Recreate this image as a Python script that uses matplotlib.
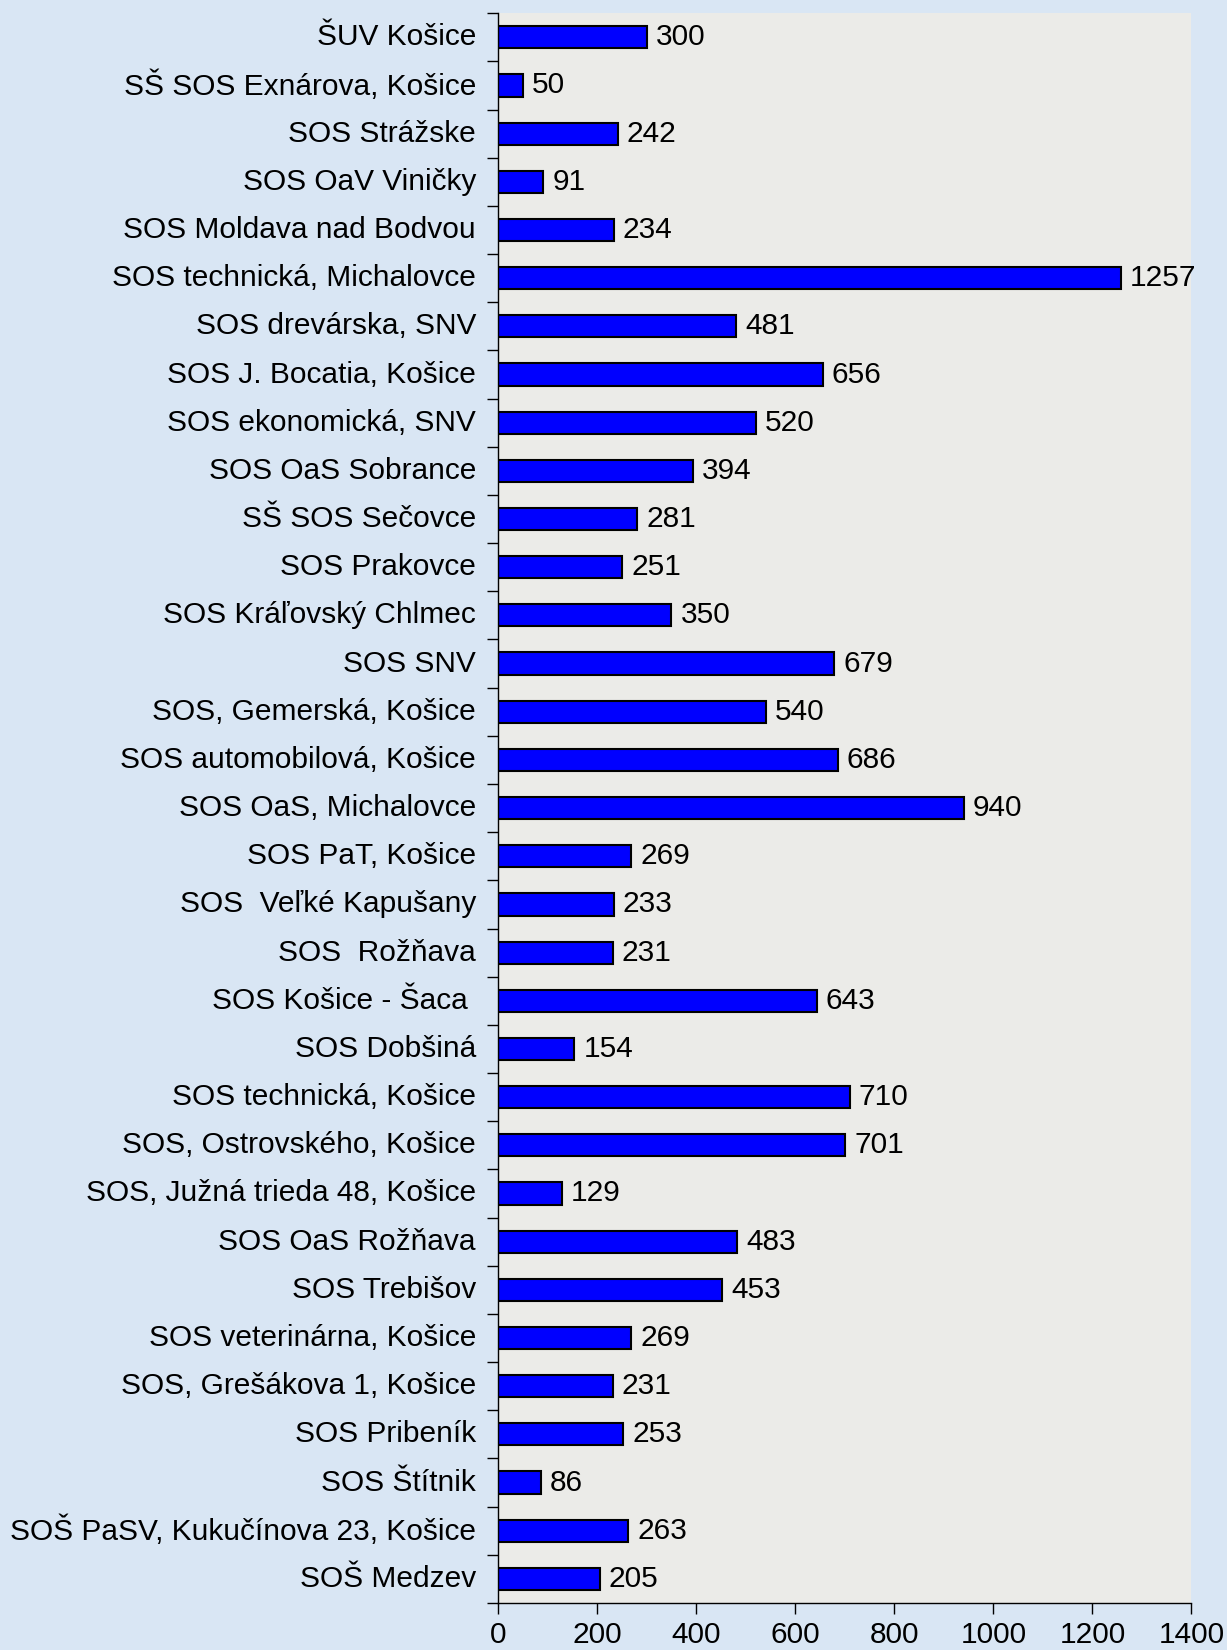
import numpy as np
from matplotlib import pyplot as plt
from matplotlib.ticker import FixedLocator

schools = ["ŠUV Košice", "SŠ SOS Exnárova, Košice", "SOS Strážske", "SOS OaV Viničky",
           "SOS Moldava nad Bodvou", "SOS technická, Michalovce", "SOS drevárska, SNV",
           "SOS J. Bocatia, Košice", "SOS ekonomická, SNV", "SOS OaS Sobrance",
           "SŠ SOS Sečovce", "SOS Prakovce", "SOS Kráľovský Chlmec", "SOS SNV",
           "SOS, Gemerská, Košice", "SOS automobilová, Košice", "SOS OaS, Michalovce",
           "SOS PaT, Košice", "SOS  Veľké Kapušany", "SOS  Rožňava", "SOS Košice - Šaca ",
           "SOS Dobšiná", "SOS technická, Košice", "SOS, Ostrovského, Košice",
           "SOS, Južná trieda 48, Košice", "SOS OaS Rožňava", "SOS Trebišov",
           "SOS veterinárna, Košice", "SOS, Grešákova 1, Košice", "SOS Pribeník",
           "SOS Štítnik", "SOŠ PaSV, Kukučínova 23, Košice", "SOŠ Medzev"]
students = [300, 50, 242, 91, 234, 1257, 481, 656, 520, 394, 281, 251, 350, 679, 540,
            686, 940, 269, 233, 231, 643, 154, 710, 701, 129, 483, 453, 269, 231, 253,
            86, 263, 205]
x_ticks = [0, 200, 400, 600, 800, 1000, 1200, 1400]

plt.rcParams['font.family'] = ['Liberation Sans', 'DejaVu Sans']
fs = 21.5

fig = plt.figure(figsize=(12.27, 16.5), dpi=100)
fig.patch.set_facecolor('#d9e6f4')
ax = fig.add_axes([0.406, 0.0285, 0.565, 0.9635])
ax.set_facecolor('#ebebe8')

pos = np.arange(len(schools))
ax.barh(pos, students, height=0.46, color='#0000ff', edgecolor='black', linewidth=1.5)
for p, v in zip(pos, students):
    ax.text(v + 18, p, str(v), va='center', ha='left', fontsize=fs)

ax.set_ylim(len(schools) - 0.5, -0.5)
ax.set_xlim(0, 1400)
ax.set_yticks(pos)
ax.set_yticklabels(schools, fontsize=fs, va='center')
ax.yaxis.set_minor_locator(FixedLocator(np.arange(-0.5, len(schools), 1)))
ax.tick_params(axis='y', which='major', length=0, pad=16)
ax.tick_params(axis='y', which='minor', length=8, width=1, direction='out')
ax.set_xticks(x_ticks)
ax.tick_params(axis='x', labelsize=fs, length=8, width=1, pad=5)

for s in ['top', 'right']:
    ax.spines[s].set_visible(False)
ax.spines['left'].set_linewidth(1)
ax.spines['bottom'].set_linewidth(1)

fig.savefig('out.png', dpi=100, facecolor=fig.get_facecolor())
